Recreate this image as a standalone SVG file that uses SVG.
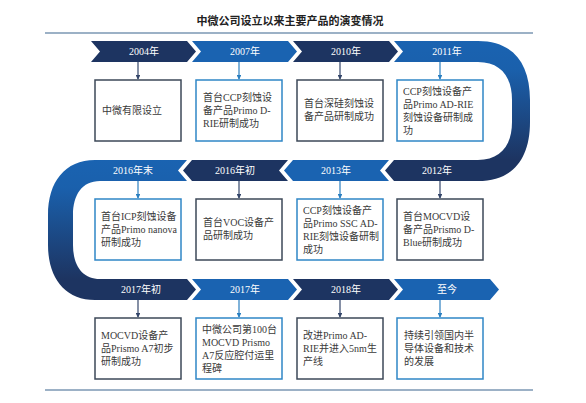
<svg xmlns="http://www.w3.org/2000/svg" width="586" height="403" viewBox="0 0 586 403">
<style>
.bg{fill:#ffffff}
.title{font-family:"Noto Sans CJK SC","Noto Sans",sans-serif;font-size:11px;font-weight:bold;fill:#222222;text-anchor:middle}
.rule{stroke:#9cb1c6;stroke-width:2;fill:none}
.dk{fill:#1d3461}
.bl{fill:#1a63b1}
.ct{font-family:"Liberation Serif","Noto Sans CJK SC",serif;font-size:10px;fill:#ffffff;text-anchor:middle}
.bxd{fill:#ffffff;stroke:#3c4858;stroke-width:1.5}
.bxb{fill:#ffffff;stroke:#2f86c6;stroke-width:1.5}
.bt{font-family:"Liberation Serif","Noto Sans CJK SC",serif;font-size:10px;fill:#3a3a3a}
.ad{stroke:#34466a;stroke-width:1.2;fill:none;marker-end:url(#mad)}
.ab{stroke:#2a7fc0;stroke-width:1.2;fill:none;marker-end:url(#mab)}
</style>
<defs>
<marker id="mad" viewBox="0 0 6 6" refX="5" refY="3" markerWidth="4" markerHeight="4" orient="auto"><path d="M0,0 L6,3 L0,6 Z" fill="#34466a"/></marker>
<marker id="mab" viewBox="0 0 6 6" refX="5" refY="3" markerWidth="4" markerHeight="4" orient="auto"><path d="M0,0 L6,3 L0,6 Z" fill="#2a7fc0"/></marker>
<linearGradient id="gr" gradientUnits="userSpaceOnUse" x1="0" y1="41" x2="0" y2="181">
<stop offset="0" stop-color="#1a63b1"/><stop offset="0.2" stop-color="#1a60ac"/><stop offset="0.85" stop-color="#1d3461"/><stop offset="1" stop-color="#1d3461"/>
</linearGradient>
<linearGradient id="gl" gradientUnits="userSpaceOnUse" x1="0" y1="160" x2="0" y2="300">
<stop offset="0" stop-color="#1a63b1"/><stop offset="0.2" stop-color="#1a60ac"/><stop offset="0.85" stop-color="#1d3461"/><stop offset="1" stop-color="#1d3461"/>
</linearGradient>
</defs>
<rect class="bg" x="0" y="0" width="586" height="403"/>
<text class="title" x="290" y="25">中微公司设立以来主要产品的演变情况</text>
<line class="rule" x1="45" y1="33" x2="533" y2="33"/>
<line class="rule" x1="45" y1="390" x2="533" y2="390"/>

<g id="bands">
<path fill="url(#gr)" d="M394 41 H478 C512 41 530 62 530 100 V122 C530 160 512 181 478 181 H394 L385 170.5 L394 160 H478 C500 160 512 146 512 122 V100 C512 76 500 62 478 62 H394 L403 51.5 Z"/>
<path fill="url(#gl)" d="M187 160 H95 C65 160 48 182 48 215 V245 C48 278 65 300 95 300 H187 L196 289.5 L187 279 H100 C82 279 73 265 73 245 V215 C73 195 82 181 100 181 H187 L178 170.5 Z"/>
</g>

<g id="connectors">
<line class="ad" x1="138" y1="62" x2="138" y2="79"/>
<line class="ab" x1="239" y1="62" x2="239" y2="79"/>
<line class="ad" x1="340" y1="62" x2="340" y2="79"/>
<line class="ab" x1="440" y1="62" x2="440" y2="79"/>
<line class="ab" x1="138" y1="181" x2="138" y2="198"/>
<line class="ad" x1="239" y1="181" x2="239" y2="198"/>
<line class="ab" x1="340" y1="181" x2="340" y2="198"/>
<line class="ad" x1="440" y1="181" x2="440" y2="198"/>
<line class="ad" x1="138" y1="300" x2="138" y2="317"/>
<line class="ab" x1="239" y1="300" x2="239" y2="317"/>
<line class="ad" x1="340" y1="300" x2="340" y2="317"/>
<line class="ab" x1="440" y1="300" x2="440" y2="317"/>
</g>

<g id="n2004">
<polygon class="dk" points="91,41 187,41 196,51.5 187,62 91,62 100,51.5"/>
<text class="ct" x="144" y="55">2004年</text>
<rect class="bxd" x="95" y="80" width="86" height="61"/>
<text class="bt" x="102" y="114">中微有限设立</text>
</g>
<g id="n2007">
<polygon class="bl" points="192,41 288,41 297,51.5 288,62 192,62 201,51.5"/>
<text class="ct" x="245" y="55">2007年</text>
<rect class="bxb" x="196" y="80" width="86" height="61"/>
<text class="bt" x="203"><tspan x="203" y="101">首台CCP刻蚀设</tspan><tspan x="203" y="114">备产品Primo D-</tspan><tspan x="203" y="127">RIE研制成功</tspan></text>
</g>
<g id="n2010">
<polygon class="dk" points="293,41 389,41 398,51.5 389,62 293,62 302,51.5"/>
<text class="ct" x="346" y="55">2010年</text>
<rect class="bxd" x="297" y="80" width="86" height="61"/>
<text class="bt"><tspan x="304" y="107">首台深硅刻蚀设</tspan><tspan x="304" y="120">备产品研制成功</tspan></text>
</g>
<g id="n2011">
<text class="ct" x="447" y="55">2011年</text>
<rect class="bxb" x="397" y="80" width="86" height="61"/>
<text class="bt"><tspan x="403" y="95">CCP刻蚀设备产</tspan><tspan x="403" y="108">品Primo AD-RIE</tspan><tspan x="403" y="121">刻蚀设备研制成</tspan><tspan x="403" y="134">功</tspan></text>
</g>

<g id="n2012">
<text class="ct" x="437" y="174">2012年</text>
<rect class="bxd" x="397" y="199" width="86" height="61"/>
<text class="bt"><tspan x="403" y="220">首台MOCVD设</tspan><tspan x="403" y="233">备产品Prismo D-</tspan><tspan x="403" y="246">Blue研制成功</tspan></text>
</g>
<g id="n2013">
<polygon class="bl" points="284,170.5 293,160 389,160 380,170.5 389,181 293,181"/>
<text class="ct" x="336" y="174">2013年</text>
<rect class="bxb" x="297" y="199" width="86" height="61"/>
<text class="bt"><tspan x="303" y="214">CCP刻蚀设备产</tspan><tspan x="303" y="227">品Primo SSC AD-</tspan><tspan x="303" y="240">RIE刻蚀设备研制</tspan><tspan x="303" y="253">成功</tspan></text>
</g>
<g id="n2016a">
<polygon class="dk" points="183,170.5 192,160 288,160 279,170.5 288,181 192,181"/>
<text class="ct" x="235" y="174">2016年初</text>
<rect class="bxd" x="196" y="199" width="86" height="61"/>
<text class="bt"><tspan x="203" y="226">首台VOC设备产</tspan><tspan x="203" y="239">品研制成功</tspan></text>
</g>
<g id="n2016b">
<text class="ct" x="133" y="174">2016年末</text>
<rect class="bxb" x="95" y="199" width="86" height="61"/>
<text class="bt"><tspan x="101" y="220">首台ICP刻蚀设备</tspan><tspan x="101" y="233">产品Primo nanova</tspan><tspan x="101" y="246">研制成功</tspan></text>
</g>

<g id="n2017a">
<text class="ct" x="141" y="293">2017年初</text>
<rect class="bxd" x="95" y="318" width="86" height="61"/>
<text class="bt"><tspan x="101" y="339">MOCVD设备产</tspan><tspan x="101" y="352">品Prismo A7初步</tspan><tspan x="101" y="365">研制成功</tspan></text>
</g>
<g id="n2017b">
<polygon class="bl" points="192,279 288,279 297,289.5 288,300 192,300 201,289.5"/>
<text class="ct" x="245" y="293">2017年</text>
<rect class="bxb" x="196" y="318" width="86" height="61"/>
<text class="bt"><tspan x="202" y="333">中微公司第100台</tspan><tspan x="202" y="346">MOCVD  Prismo</tspan><tspan x="202" y="359">A7反应腔付运里</tspan><tspan x="202" y="372">程碑</tspan></text>
</g>
<g id="n2018">
<polygon class="dk" points="293,279 389,279 398,289.5 389,300 293,300 302,289.5"/>
<text class="ct" x="346" y="293">2018年</text>
<rect class="bxd" x="297" y="318" width="86" height="61"/>
<text class="bt"><tspan x="303" y="339">改进Primo AD-</tspan><tspan x="303" y="352">RIE并进入5nm生</tspan><tspan x="303" y="365">产线</tspan></text>
</g>
<g id="nnow">
<polygon class="bl" points="394,279 490,279 499,289.5 490,300 394,300 403,289.5"/>
<text class="ct" x="447" y="293">至今</text>
<rect class="bxb" x="397" y="318" width="86" height="61"/>
<text class="bt"><tspan x="404" y="339">持续引领国内半</tspan><tspan x="404" y="352">导体设备和技术</tspan><tspan x="404" y="365">的发展</tspan></text>
</g>
</svg>
